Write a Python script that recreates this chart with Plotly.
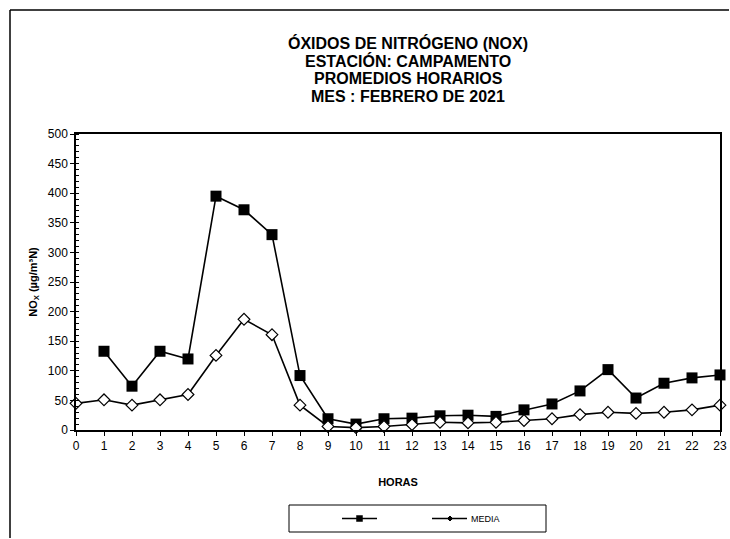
import plotly.graph_objects as go

horas = list(range(24))
maximo = [None, 133, 74, 133, 120, 395, 372, 330, 92, 19, 10, 19, 20, 24, 25, 23,
          34, 44, 66, 102, 54, 79, 88, 93]
media = [45, 51, 42, 51, 60, 126, 187, 161, 42, 6, 4, 6, 9, 13, 12, 13,
         16, 19, 26, 30, 28, 30, 34, 42]
tick_vals_y = list(range(0, 501, 50))
serie_names = ["", "MEDIA"]
title_lines = ["ÓXIDOS DE NITRÓGENO (NOX)", "ESTACIÓN: CAMPAMENTO",
               "PROMEDIOS HORARIOS", "MES : FEBRERO DE 2021"]

W, H = 730, 539
L, R, T, B = 76, 10, 134, 109
pw, ph = W - L - R, H - T - B


def px_x(p):
    return (p - L) / pw


def px_y(p):
    return (H - B - p) / ph


fig = go.Figure()
fig.add_trace(go.Scatter(x=horas, y=maximo, mode="lines+markers", name=serie_names[0],
                         line=dict(color="black", width=1.6),
                         marker=dict(symbol="square", size=11, color="black"),
                         showlegend=False, connectgaps=False, cliponaxis=False))
fig.add_trace(go.Scatter(x=horas, y=media, mode="lines+markers", name=serie_names[1],
                         line=dict(color="black", width=1.6),
                         marker=dict(symbol="diamond", size=9, color="white",
                                     line=dict(color="black", width=1.2)),
                         showlegend=False, cliponaxis=False))

shapes = [
    # outer frame (top and left)
    dict(type="line", xref="paper", yref="paper", x0=px_x(10), y0=px_y(10),
         x1=px_x(729), y1=px_y(10), line=dict(color="black", width=1.5)),
    dict(type="line", xref="paper", yref="paper", x0=px_x(10), y0=px_y(10),
         x1=px_x(10), y1=px_y(538), line=dict(color="black", width=1.5)),
    # legend box
    dict(type="rect", xref="paper", yref="paper", x0=px_x(289), y0=px_y(505),
         x1=px_x(546), y1=px_y(532), line=dict(color="black", width=1),
         fillcolor="white"),
    # legend entry 1
    dict(type="line", xref="paper", yref="paper", x0=px_x(342), y0=px_y(518.5),
         x1=px_x(377), y1=px_y(518.5), line=dict(color="black", width=1.6)),
    dict(type="rect", xref="paper", yref="paper", x0=px_x(356.5), y0=px_y(515.5),
         x1=px_x(362.5), y1=px_y(521.5), line=dict(color="black", width=0.5),
         fillcolor="black"),
    # legend entry 2
    dict(type="line", xref="paper", yref="paper", x0=px_x(432), y0=px_y(518.5),
         x1=px_x(467), y1=px_y(518.5), line=dict(color="black", width=1.6)),
    dict(type="path", xref="paper", yref="paper",
         path=(f"M {px_x(450)},{px_y(516)} L {px_x(452.5)},{px_y(518.5)} "
               f"L {px_x(450)},{px_y(521)} L {px_x(447.5)},{px_y(518.5)} Z"),
         line=dict(color="black", width=1), fillcolor="black"),
]

annotations = [
    dict(text=serie_names[1], xref="paper", yref="paper", x=px_x(469), y=px_y(518.5),
         xanchor="left", yanchor="middle", showarrow=False,
         font=dict(size=9, color="black")),
]
for line, yc in zip(title_lines, [43, 60.5, 78.5, 96.5]):
    annotations.append(dict(text=f"<b>{line}</b>", xref="paper", yref="paper",
                            x=px_x(408), y=px_y(yc), xanchor="center",
                            yanchor="middle", showarrow=False,
                            font=dict(size=16, color="black")))

fig.update_layout(
    width=W, height=H,
    margin=dict(l=L, r=R, t=T, b=B, autoexpand=False),
    paper_bgcolor="white", plot_bgcolor="white",
    showlegend=False,
    font=dict(family="Liberation Sans, Arial, sans-serif", size=12, color="black"),
    xaxis=dict(range=[0, 23], tickvals=horas, ticktext=[str(h) for h in horas],
               showgrid=False, zeroline=False, showline=True, linecolor="black",
               linewidth=1.5, mirror=True, ticks="outside", ticklen=4,
               tickcolor="black", tickfont=dict(size=12, color="black"),
               automargin=False,
               title=dict(text="<b>HORAS</b>", font=dict(size=11), standoff=26)),
    yaxis=dict(range=[0, 500], tickvals=tick_vals_y, showgrid=False, zeroline=False,
               showline=True, linecolor="black", linewidth=1.5, mirror=True,
               ticks="outside", ticklen=4, tickcolor="black",
               tickfont=dict(size=12, color="black"), automargin=False,
               minor=dict(dtick=10, ticks="inside", ticklen=3, tickcolor="black"),
               title=dict(text="<b>NO<sub>X</sub> (µg/m³N)</b>", font=dict(size=11),
                          standoff=8)),
    shapes=shapes,
    annotations=annotations,
)

fig.write_html("out.html", config={"displayModeBar": False},
               post_script="document.body.style.margin='0';"
                           "document.body.style.overflow='hidden';")
